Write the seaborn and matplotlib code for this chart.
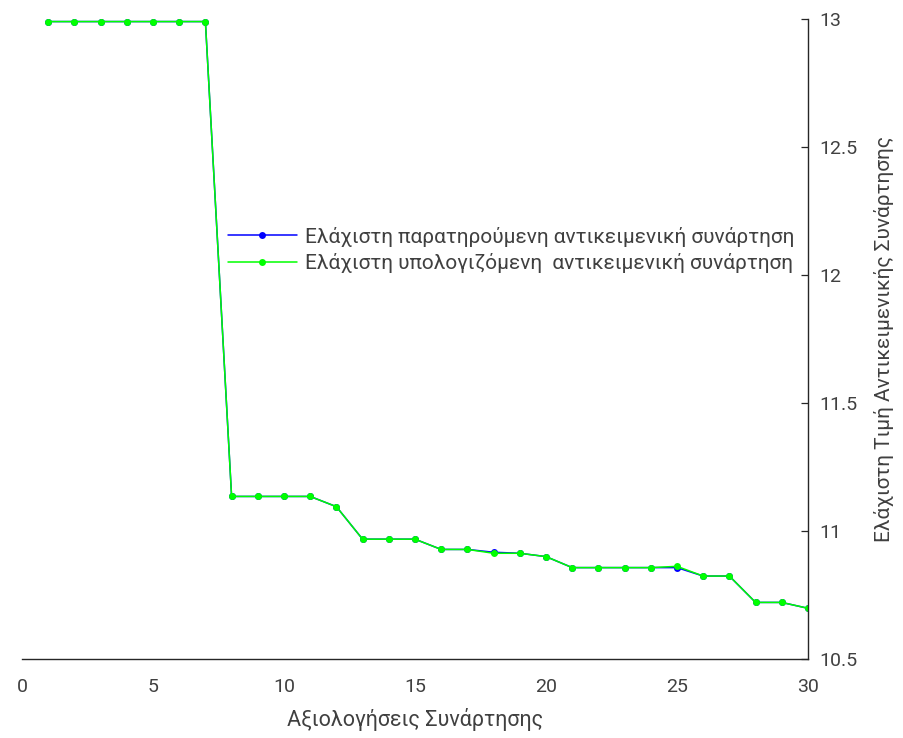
import numpy as np
import pandas as pd
import seaborn as sns
import matplotlib
matplotlib.use("Agg")
import matplotlib.pyplot as plt


# Values (function evaluations 1..30)
EVALUATIONS = list(range(1, 31))
OBSERVED_MIN = [
    12.99, 12.99, 12.99, 12.99, 12.99, 12.99, 12.99,
    11.135, 11.135, 11.135, 11.135, 11.095,
    10.968, 10.968, 10.968, 10.928, 10.928, 10.917, 10.913, 10.900,
    10.857, 10.857, 10.857, 10.857, 10.857, 10.824, 10.824,
    10.721, 10.721, 10.698,
]
ESTIMATED_MIN = [
    12.99, 12.99, 12.99, 12.99, 12.99, 12.99, 12.99,
    11.135, 11.135, 11.135, 11.135, 11.095,
    10.968, 10.968, 10.968, 10.928, 10.928, 10.913, 10.913, 10.900,
    10.857, 10.857, 10.857, 10.857, 10.862, 10.824, 10.824,
    10.721, 10.721, 10.698,
]
SERIES_NAMES = [
    "Ελάχιστη παρατηρούμενη αντικειμενική συνάρτηση",
    "Ελάχιστη υπολογιζόμενη  αντικειμενική συνάρτηση",
]
X_TICKS = [0, 5, 10, 15, 20, 25, 30]
Y_TICKS = [10.5, 11, 11.5, 12, 12.5, 13]
Y_TICK_LABELS = ["10.5", "11", "11.5", "12", "12.5", "13"]
X_LABEL = "Αξιολογήσεις Συνάρτησης"
Y_LABEL = "Ελάχιστη Τιμή Αντικειμενικής Συνάρτησης"

TEXT_COLOR = "#404040"
AXIS_COLOR = "#262626"


def build_frame():
    observed = pd.DataFrame({"eval": EVALUATIONS, "value": OBSERVED_MIN, "series": SERIES_NAMES[0]})
    estimated = pd.DataFrame({"eval": EVALUATIONS, "value": ESTIMATED_MIN, "series": SERIES_NAMES[1]})
    return pd.concat([observed, estimated], ignore_index=True)


def main():
    sns.set_style("white")
    plt.rcParams["font.family"] = ["Roboto", "DejaVu Sans"]

    frame = build_frame()

    fig = plt.figure(figsize=(9.04, 7.38), dpi=100)
    ax = fig.add_axes([22 / 904, 1 - 659 / 738, (808 - 22) / 904, (659 - 19) / 738])

    sns.lineplot(
        data=frame, x="eval", y="value", hue="series",
        palette=["#0000ff", "#00ff00"], marker="o", markersize=5,
        markeredgewidth=0, linewidth=1.1, ax=ax,
    )

    ax.set_xlim(0, 30)
    ax.set_ylim(10.5, 13)
    ax.set_xticks(X_TICKS)
    ax.set_yticks(Y_TICKS)
    ax.set_yticklabels(Y_TICK_LABELS)

    # MATLAB-like look: y axis on the right, no box
    ax.yaxis.tick_right()
    ax.yaxis.set_label_position("right")
    for side in ["top", "left"]:
        ax.spines[side].set_visible(False)
    for side in ["bottom", "right"]:
        ax.spines[side].set_color(AXIS_COLOR)
        ax.spines[side].set_linewidth(1.0)

    ax.tick_params(axis="x", direction="in", length=5, width=0.9, color=AXIS_COLOR,
                   labelsize=14, labelcolor=TEXT_COLOR, pad=14)
    ax.tick_params(axis="y", direction="in", length=5, width=0.9, color=AXIS_COLOR,
                   labelsize=14, labelcolor=TEXT_COLOR, pad=8)

    ax.set_xlabel(X_LABEL, fontsize=15.5, color=TEXT_COLOR, labelpad=8)
    ax.set_ylabel(Y_LABEL, fontsize=15, color=TEXT_COLOR, labelpad=12)

    ax.legend(
        loc="center left", bbox_to_anchor=(0.262, 0.639), frameon=False,
        fontsize=15, handlelength=3.3, handletextpad=0.4, labelcolor=TEXT_COLOR,
        borderaxespad=0, borderpad=0, labelspacing=0.32,
    )

    fig.savefig("out.png", dpi=100)


if __name__ == "__main__":
    main()
